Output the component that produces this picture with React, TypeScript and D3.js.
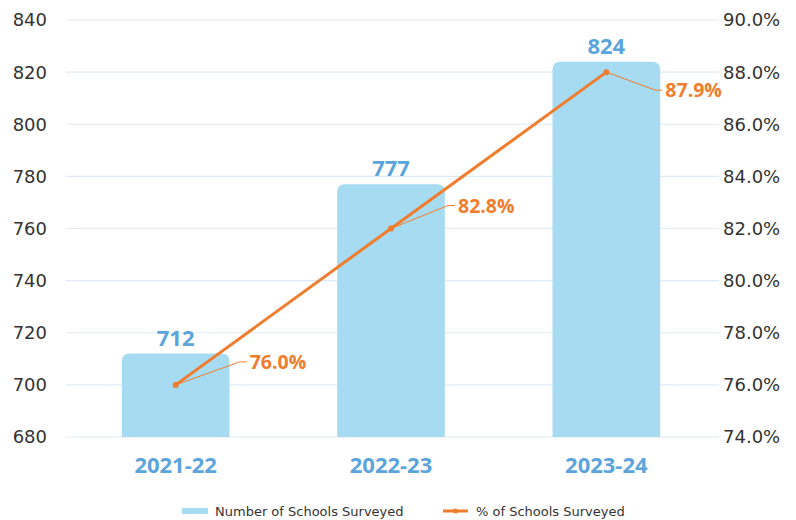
import React from "react";
import * as d3 from "d3";

const categories = ["2021-22", "2022-23", "2023-24"];
const schoolCounts = [712, 777, 824];
const pctPlotted = [76.0, 82.0, 88.0];
const pctLabels = ["76.0%", "82.8%", "87.9%"];
const leftTicks = [680, 700, 720, 740, 760, 780, 800, 820, 840];
const rightTicks = [74, 76, 78, 80, 82, 84, 86, 88, 90];

const W = 796;
const H = 520;
const M = { left: 68, right: 82, top: 20, bottom: 83 };
const GRID_X0 = 66;
const GRID_X1 = 719;
const FONT = "'Open Sans', 'DejaVu Sans', sans-serif";
const TICKFONT = "'DejaVu Sans', sans-serif";
const BAR = "#a6dbf2";
const BLUE = "#5ca4dc";
const ORANGE = "#ef7d2d";
const GRID = "#dcebf7";
const TEXT = "#333333";

// label offsets relative to point (style config)
const labelOffsets = [
  { dx: 74, dy: -23 },
  { dx: 67, dy: -23 },
  { dx: 59, dy: 18 },
];

export default function App() {
  const x = d3
    .scaleBand<string>()
    .domain(categories)
    .range([M.left, W - M.right])
    .paddingInner(0.5)
    .paddingOuter(0.25);
  const yL = d3.scaleLinear().domain([680, 840]).range([H - M.bottom, M.top]);
  const yR = d3.scaleLinear().domain([74, 90]).range([H - M.bottom, M.top]);
  const bw = x.bandwidth();
  const r = 8;

  const barPath = (cx: number, v: number) => {
    const x0 = cx - bw / 2;
    const x1 = cx + bw / 2;
    const y0 = yL(680);
    const y1 = yL(v);
    return `M${x0},${y0}L${x0},${y1 + r}Q${x0},${y1} ${x0 + r},${y1}L${x1 - r},${y1}Q${x1},${y1} ${x1},${y1 + r}L${x1},${y0}Z`;
  };

  const pts = categories.map((c, i) => [x(c)! + bw / 2, yR(pctPlotted[i])] as [number, number]);
  const line = d3.line()(pts) || "";

  return (
    <svg width={W} height={H} style={{ position: "absolute", left: 0, top: 0 }} fontFamily={FONT}>
      <rect width={W} height={H} fill="#fff" />
      {leftTicks.map((t) => (
        <g key={t}>
          <line x1={GRID_X0} x2={GRID_X1} y1={yL(t)} y2={yL(t)} stroke={GRID} strokeWidth={1.2} />
          <text x={47} y={yL(t)} dy="0.36em" textAnchor="end" fontSize={18} fill={TEXT} fontFamily={TICKFONT}>
            {t}
          </text>
        </g>
      ))}
      {rightTicks.map((t) => (
        <text key={t} x={723} y={yR(t)} dy="0.36em" textAnchor="start" fontSize={18} fill={TEXT} fontFamily={TICKFONT}>
          {t.toFixed(1)}%
        </text>
      ))}
      {categories.map((c, i) => {
        const cx = x(c)! + bw / 2;
        return (
          <g key={c}>
            <path d={barPath(cx, schoolCounts[i])} fill={BAR} />
            <text x={cx} y={yL(schoolCounts[i]) - 8} textAnchor="middle" fontSize={22} fontWeight="bold" fill={BLUE}>
              {schoolCounts[i]}
            </text>
            <text x={cx} y={465} dy="0.36em" textAnchor="middle" fontSize={22} fontWeight="bold" fill={BLUE}>
              {c}
            </text>
          </g>
        );
      })}
      <path d={line} fill="none" stroke={ORANGE} strokeWidth={3} />
      {pts.map((p, i) => {
        const o = labelOffsets[i];
        const lx = p[0] + o.dx;
        const ly = p[1] + o.dy;
        return (
          <g key={i}>
            <polyline
              points={`${p[0]},${p[1]} ${lx - 10},${ly} ${lx - 3},${ly}`}
              fill="none"
              stroke={ORANGE}
              strokeWidth={1}
            />
            <circle cx={p[0]} cy={p[1]} r={3} fill={ORANGE} />
            <text x={lx} y={ly} dy="0.36em" fontSize={19.5} fontWeight="bold" fill={ORANGE}>
              {pctLabels[i]}
            </text>
          </g>
        );
      })}
      <g fontFamily={TICKFONT}>
        <rect x={182} y={508} width={26} height={6} fill={BAR} />
        <text x={215} y={511} dy="0.36em" fontSize={13} fill={TEXT}>
          Number of Schools Surveyed
        </text>
        <line x1={443} x2={468} y1={511} y2={511} stroke={ORANGE} strokeWidth={3} />
        <circle cx={455.5} cy={511} r={2.5} fill={ORANGE} />
        <text x={476} y={511} dy="0.36em" fontSize={13} fill={TEXT}>
          % of Schools Surveyed
        </text>
      </g>
    </svg>
  );
}
